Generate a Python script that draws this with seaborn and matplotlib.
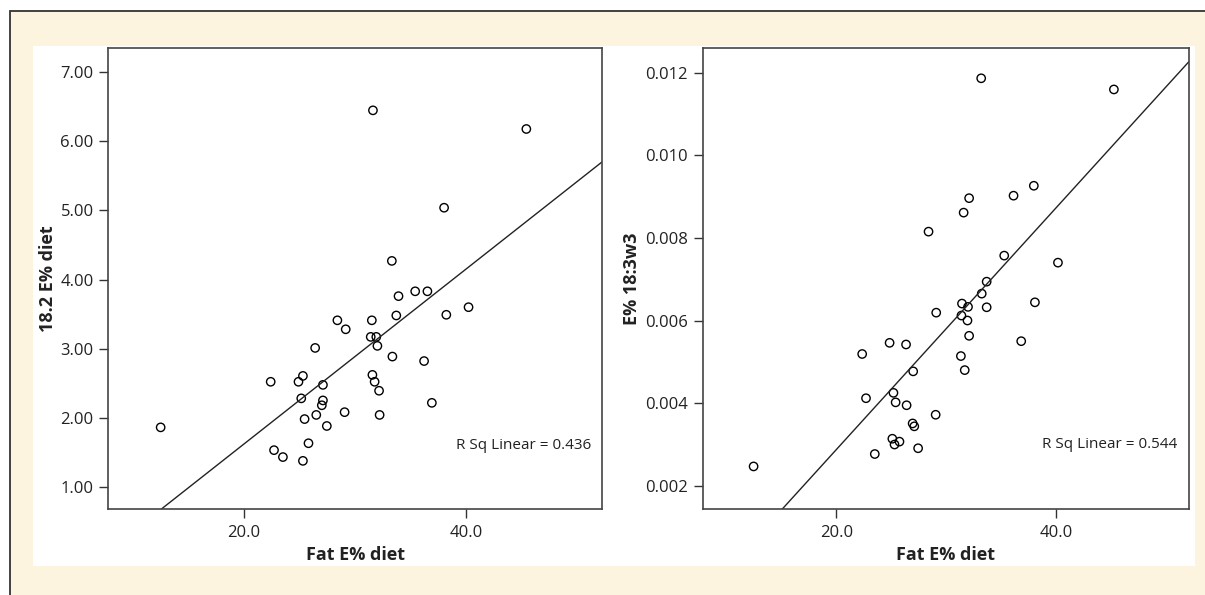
import numpy as np
import seaborn as sns
import matplotlib
matplotlib.use('Agg')
from matplotlib import pyplot as plt
from matplotlib.patches import Rectangle

# valores
fat_left = [31.6, 45.4, 38.0, 33.3, 35.4, 36.5, 33.9, 40.2, 38.2, 33.7,
            28.4, 31.5, 29.15, 31.4, 31.9, 32.0, 26.4, 33.35, 36.2, 31.55,
            25.3, 22.4, 24.9, 31.75, 27.1, 32.15, 25.15, 27.1, 27.0, 36.9,
            29.05, 26.5, 32.2, 25.45, 27.45, 12.5, 25.8, 22.7, 23.5, 25.3]
e18_2 = [6.45, 6.18, 5.04, 4.27, 3.83, 3.83, 3.76, 3.60, 3.49, 3.48,
         3.41, 3.41, 3.28, 3.17, 3.17, 3.04, 3.01, 2.885, 2.82, 2.62,
         2.605, 2.52, 2.52, 2.52, 2.475, 2.39, 2.28, 2.25, 2.18, 2.215,
         2.08, 2.04, 2.04, 1.98, 1.88, 1.86, 1.63, 1.53, 1.43, 1.375]

fat_right = [33.2, 45.3, 38.0, 36.15, 32.1, 31.6, 28.4, 35.3, 40.2, 33.7,
             33.25, 31.45, 32.0, 33.7, 38.1, 29.1, 31.4, 31.95, 32.1, 36.85,
             24.85, 26.35, 22.35, 31.35, 31.7, 27.0, 25.2, 22.7, 25.4, 26.4,
             29.05, 26.95, 27.1, 25.1, 25.75, 25.3, 27.45, 23.5, 12.45]
e18_3w3 = [0.01186, 0.01159, 0.00926, 0.00902, 0.00896, 0.00861, 0.00815, 0.00757, 0.00740, 0.00694,
           0.00665, 0.00641, 0.00633, 0.00632, 0.00644, 0.00619, 0.00612, 0.00600, 0.00563, 0.00550,
           0.00546, 0.00542, 0.00519, 0.00514, 0.00480, 0.00477, 0.00425, 0.00412, 0.00402, 0.00395,
           0.00372, 0.00351, 0.00344, 0.00314, 0.00307, 0.00300, 0.00291, 0.00277, 0.00247]

x_ticks = [20.0, 40.0]
y_ticks_left = [1.0, 2.0, 3.0, 4.0, 5.0, 6.0, 7.0]
y_ticks_right = [0.002, 0.004, 0.006, 0.008, 0.010, 0.012]

sns.set_style('ticks')
plt.rcParams['font.family'] = ['Open Sans', 'DejaVu Sans']

fig = plt.figure(figsize=(12.05, 5.95), dpi=100)
fig.patch.set_facecolor('white')

# marco crema y panel blanco (detras de los ejes)
fig.patches.append(Rectangle((10 / 1205, -0.1), 1.2, 1 - 11 / 595 + 0.1, transform=fig.transFigure,
                             facecolor='#fcf4de', edgecolor='#333333', linewidth=1.3, zorder=-10))
fig.patches.append(Rectangle((33 / 1205, 1 - 566 / 595), (1195 - 33) / 1205, (566 - 46) / 595,
                             transform=fig.transFigure, facecolor='white', edgecolor='none', zorder=-9))

ax1 = fig.add_axes([108.3 / 1205, 1 - 509 / 595, (601.7 - 108.3) / 1205, (509 - 47.7) / 595])
ax2 = fig.add_axes([702.7 / 1205, 1 - 509 / 595, (1188.7 - 702.7) / 1205, (509 - 47.7) / 595])

panels = [
    (ax1, fat_left, e18_2, (7.79, 52.18), (0.678, 7.357), y_ticks_left, '{:.2f}',
     '18.2 E% diet', 'R Sq Linear = 0.436', -0.1232, (0.9797, 0.1372)),
    (ax2, fat_right, e18_3w3, (7.81, 52.12), (0.00144, 0.0126), y_ticks_right, '{:.3f}',
     'E% 18:3w3', 'R Sq Linear = 0.544', -0.1455, (0.9759, 0.1403)),
]

for ax, xs, ys, xlim, ylim, yt, fmt, ylab, rsq, ylab_x, rsq_pos in panels:
    ax.set_facecolor('white')
    ax.set_xlim(xlim)
    ax.set_ylim(ylim)
    sns.regplot(x=np.array(xs), y=np.array(ys), ax=ax, ci=None, truncate=False,
                scatter_kws={'s': 36, 'facecolors': 'none', 'edgecolors': 'black',
                             'linewidths': 1.0, 'alpha': 1},
                line_kws={'color': '#222222', 'linewidth': 1.0})
    ax.set_xlim(xlim)
    ax.set_ylim(ylim)
    ax.set_xticks(x_ticks)
    ax.set_xticklabels(['{:.1f}'.format(t) for t in x_ticks])
    ax.set_yticks(yt)
    ax.set_yticklabels([fmt.format(t) for t in yt])
    ax.tick_params(axis='both', direction='out', length=6.5, width=1.0, color='#333333',
                   labelsize=12, labelcolor='#222222', pad=4)
    ax.tick_params(axis='x', pad=5)
    for s in ax.spines.values():
        s.set_visible(True)
        s.set_color('#444444')
        s.set_linewidth(1.2)
    ax.set_xlabel('Fat E% diet', fontsize=13, fontweight='bold', color='#222222')
    ax.set_ylabel(ylab, fontsize=13, fontweight='bold', color='#222222')
    ax.xaxis.set_label_coords(0.5, -0.0997)
    ax.xaxis.label.set_verticalalignment('center')
    ax.yaxis.set_label_coords(ylab_x, 0.5)
    ax.yaxis.label.set_verticalalignment('center')
    ax.text(rsq_pos[0], rsq_pos[1], rsq, transform=ax.transAxes, ha='right', va='center',
            fontsize=11, color='#222222')

plt.savefig('out.png', dpi=100)
